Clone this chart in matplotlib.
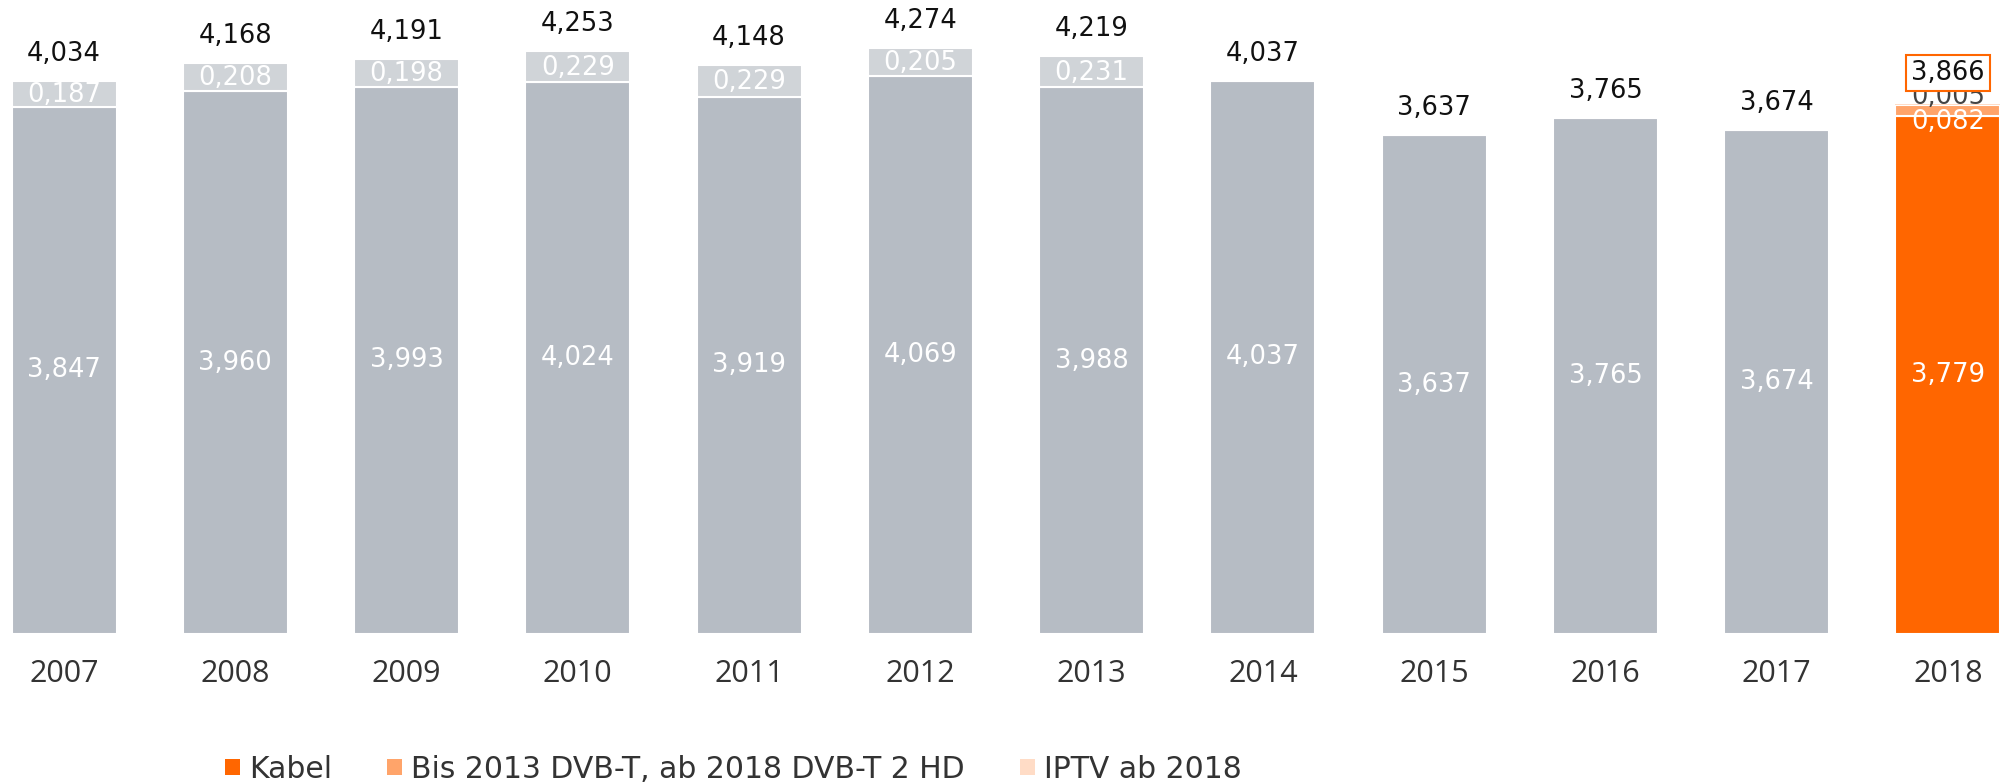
import matplotlib
matplotlib.use("Agg")
import matplotlib.pyplot as plt
from matplotlib.patches import Patch
import numpy as np

years = ["2007", "2008", "2009", "2010", "2011", "2012", "2013", "2014", "2015", "2016", "2017", "2018"]
kabel = [3.847, 3.960, 3.993, 4.024, 3.919, 4.069, 3.988, 4.037, 3.637, 3.765, 3.674, 3.779]
dvbt = [0.187, 0.208, 0.198, 0.229, 0.229, 0.205, 0.231, 0, 0, 0, 0, 0.082]
iptv = [0, 0, 0, 0, 0, 0, 0, 0, 0, 0, 0, 0.005]
totals = [4.034, 4.168, 4.191, 4.253, 4.148, 4.274, 4.219, 4.037, 3.637, 3.765, 3.674, 3.866]
legend_labels = ["Kabel", "Bis 2013 DVB-T, ab 2018 DVB-T 2 HD", "IPTV ab 2018"]

ORANGE = "#ff6600"
LORANGE = "#ffa46a"
PORANGE = "#ffdcc6"
GRAY = "#b6bcc4"
LGRAY = "#d0d4d8"

def fmt(v):
    return f"{v:.3f}".replace(".", ",")

W, H = 2012, 784
fig = plt.figure(figsize=(W / 100, H / 100), dpi=100)
ax = fig.add_axes([0, 0, 1, 1])
pitch = 171.27
scale = 137.1
x0 = 64
ax.set_xlim(-x0 / pitch, (W - x0) / pitch)
ax.set_ylim(-(H - 634) / scale, 634 / scale)
ax.axis("off")

x = np.arange(len(years))
bw = 105 / pitch
last = len(years) - 1
c_main = [GRAY] * last + [ORANGE]
c_sec = [LGRAY] * last + [LORANGE]

ax.bar(x, kabel, width=bw, color=c_main, edgecolor="white", linewidth=1.5)
bottom2 = np.array(kabel)
ax.bar(x, dvbt, bottom=bottom2, width=bw, color=c_sec, edgecolor="white", linewidth=1.5)
bottom3 = bottom2 + np.array(dvbt)
ax.bar(x, iptv, bottom=bottom3, width=bw, color=PORANGE, edgecolor="none", linewidth=0)

num_font = "DejaVu Sans"
fs = 18.5
for i in range(len(years)):
    ax.text(x[i], kabel[i] / 2, fmt(kabel[i]), ha="center", va="center",
            color="white", fontsize=fs, family=num_font)
    ax.text(x[i], -0.29, years[i], ha="center", va="center",
            color="#333333", fontsize=22, family="Open Sans")
    if i < last:
        if dvbt[i] > 0:
            ax.text(x[i], kabel[i] + dvbt[i] / 2 - 0.01, fmt(dvbt[i]), ha="center",
                    va="center", color="white", fontsize=fs, family=num_font)
        ax.text(x[i], totals[i] + 0.197, fmt(totals[i]), ha="center", va="center",
                color="#111111", fontsize=fs, family=num_font)
    else:
        ax.text(x[i], kabel[i] + dvbt[i] / 2 - 0.085, fmt(dvbt[i]), ha="center",
                va="center", color="white", fontsize=fs, family=num_font)
        ax.text(x[i], totals[i] + 0.05, fmt(iptv[i]), ha="center",
                va="center", color="#444444", fontsize=fs, family=num_font)
        ax.text(x[i], totals[i] + 0.225, fmt(totals[i]), ha="center", va="center",
                color="#111111", fontsize=fs, family=num_font,
                bbox=dict(boxstyle="square,pad=0.2", fc="white", ec=ORANGE, lw=1.5))

handles = [Patch(facecolor=c, edgecolor="none") for c in [ORANGE, LORANGE, PORANGE]]
leg = ax.legend(handles, legend_labels, loc="center left", ncol=3,
                bbox_to_anchor=(225 / W, 1 - 769 / H), bbox_transform=fig.transFigure,
                frameon=False, borderpad=0, borderaxespad=0,
                prop={"family": "DejaVu Sans", "size": 21.5},
                handlelength=0.5, handleheight=0.47, handletextpad=0.3,
                columnspacing=1.85)
for t in leg.get_texts():
    t.set_color("#333333")

fig.savefig("out.png", dpi=100)
